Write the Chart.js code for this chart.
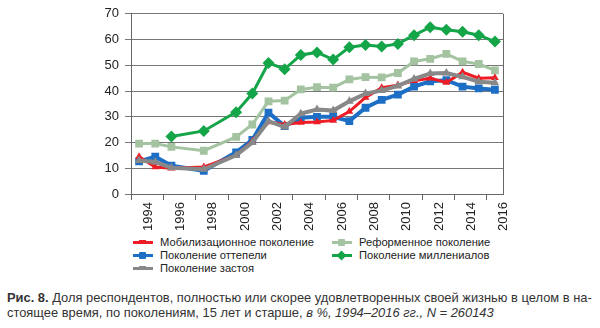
<!DOCTYPE html>
<html>
<head>
<meta charset="utf-8">
<script src="https://cdn.jsdelivr.net/npm/chart.js@4"></script>
<style>
  body { margin: 0; background: #fff; font-family: "Liberation Sans", Arial, sans-serif; }
  #wrap { position: relative; width: 600px; height: 328px; overflow: hidden; }
  #chartBox { position: absolute; left: 0; top: 0; width: 600px; height: 234px; }
  #legend { position: absolute; left: 0; top: 235px; width: 600px; height: 42px; font-size: 11.2px; color: #222; }
  .item { position: absolute; height: 13px; line-height: 13px; white-space: nowrap; }
  .item .ln { position: absolute; left: 0; top: 5px; width: 20px; height: 3px; }
  .item .mk { position: absolute; left: 6px; top: 3px; width: 7px; height: 7px; }
  .item span.tx { position: absolute; left: 27px; top: 0; }
  #caption { position: absolute; left: 7px; top: 290px; width: 592px; font-size: 12.9px; line-height: 15px; color: #333; white-space: nowrap; }
</style>
</head>
<body>
<div id="wrap">
  <div id="chartBox"><canvas id="lifeChart"></canvas></div>
  <div id="legend"></div>
  <div id="caption"><b>Рис. 8.</b> Доля респондентов, полностью или скорее удовлетворенных своей жизнью в целом в на-<br>стоящее время, по поколениям, 15 лет и старше, <i>в %, 1994–2016 гг., N = 260143</i></div>
</div>
<script>
// Chart data
const years = ['1994','1995','1996','1997','1998','1999','2000','2001','2002','2003','2004','2005',
               '2006','2007','2008','2009','2010','2011','2012','2013','2014','2015','2016'];
const yTicks = [0, 10, 20, 30, 40, 50, 60, 70];

const mobilization = [14.5, 10.5, 10, null, 10.5, null, 15, 20.5, 28, 27, 27.8, 28, 28.6, 32, 37.5, 41.3, 42.3, 44, 45, 43.3, 47.3, 45, 45.2];
const reform       = [19.6, 19.6, 18.3, null, 16.8, null, 22.2, 27, 36, 36.3, 40.6, 41.5, 41.3, 44.5, 45.4, 45.3, 47, 51.5, 52.5, 54.4, 51.5, 50.5, 48];
const thaw         = [12.7, 14.5, 11, null, 9, null, 16.2, 21, 31.6, 26.4, 29.6, 30, 30, 28.3, 33.5, 36.6, 38.6, 41.7, 43.8, 44.2, 41.7, 41, 40.5];
const millennials  = [null, null, 22.3, null, 24.5, null, 31.8, 39, 50.9, 48.5, 54, 55, 52.2, 57, 57.9, 57.3, 58.3, 61.7, 64.8, 63.8, 63, 61.7, 59.2];
const stagnation   = [13, 12.4, 10.2, null, 9.6, null, 15, 20, 28.3, 26, 31.2, 32.8, 32.4, 36, 39, 40.2, 42, 44.7, 46.8, 47, 45.5, 43.6, 43.2];

const seriesNames = ['Мобилизационное поколение', 'Реформенное поколение', 'Поколение оттепели',
                     'Поколение миллениалов', 'Поколение застоя'];
const seriesColors = ['#ee1c25', '#a4c3a1', '#1d6fc6', '#15a549', '#888888'];

const seriesStyle = [
    { data: mobilization, pointStyle: 'triangle', radius: 4.5, width: 3, order: 2 },
    { data: reform, pointStyle: 'rect', radius: 5.5, width: 3, order: 5 },
    { data: thaw, pointStyle: 'rect', radius: 5.5, width: 4, order: 3 },
    { data: millennials, pointStyle: 'rectRot', radius: 6, width: 3, order: 4 },
    { data: stagnation, pointStyle: 'triangle', radius: 5, width: 4, order: 1 }
];

// Frame round the plot area
const frame = {
    id: 'frame',
    beforeDatasetsDraw(chart) {
        const a = chart.chartArea;
        const ctx = chart.ctx;
        ctx.save();
        ctx.strokeStyle = '#666';
        ctx.lineWidth = 1;
        ctx.beginPath();
        ctx.moveTo(a.right + 0.5, a.top);
        ctx.lineTo(a.right + 0.5, a.bottom);
        ctx.stroke();
        ctx.restore();
    }
};

const ctx = document.getElementById('lifeChart').getContext('2d');
const lifeChart = new Chart(ctx, {
    type: 'line',
    data: {
        labels: years,
        datasets: seriesStyle.map((s, i) => ({
            label: seriesNames[i],
            data: s.data,
            borderColor: seriesColors[i],
            backgroundColor: seriesColors[i],
            borderWidth: s.width,
            pointStyle: s.pointStyle,
            pointRadius: s.radius,
            pointBorderWidth: 0,
            pointHoverRadius: s.radius,
            tension: 0,
            spanGaps: true,
            order: s.order
        }))
    },
    options: {
        responsive: true,
        maintainAspectRatio: false,
        animation: false,
        layout: { padding: { left: 0, right: 97, top: 11, bottom: 0 } },
        plugins: {
            legend: { display: false },
            tooltip: { enabled: false }
        },
        scales: {
            x: {
                offset: true,
                grid: {
                    offset: true,
                    drawOnChartArea: false,
                    tickLength: 6,
                    color: c => (c.index % 2 === 0 ? '#666' : 'rgba(0,0,0,0)')
                },
                border: { color: '#666' },
                ticks: {
                    autoSkip: false,
                    minRotation: 90,
                    maxRotation: 90,
                    labelOffset: 9,
                    padding: 2,
                    color: '#222',
                    font: { family: '"Liberation Sans", Arial', size: 13 },
                    callback: function (v, i) { return i % 2 === 0 ? years[i] : ''; }
                },
                afterFit: s => { s.height = 234 - 194; }
            },
            y: {
                min: 0,
                max: 70,
                afterBuildTicks: s => { s.ticks = yTicks.map(v => ({ value: v })); },
                grid: { color: '#777', tickLength: 6 },
                border: { color: '#666' },
                ticks: {
                    padding: 6,
                    color: '#222',
                    font: { family: '"Liberation Sans", Arial', size: 13 }
                },
                afterFit: s => { s.width = 131; }
            }
        }
    },
    plugins: [frame]
});

// HTML legend, two columns like the source
const legendPos = [
    { left: 133, top: 1 }, { left: 332, top: 1 },
    { left: 133, top: 14 }, { left: 332, top: 14 },
    { left: 133, top: 27 }
];
const legend = document.getElementById('legend');
seriesStyle.forEach((s, i) => {
    const el = document.createElement('div');
    el.className = 'item';
    el.style.left = legendPos[i].left + 'px';
    el.style.top = legendPos[i].top + 'px';
    let mk = '';
    if (s.pointStyle === 'rect') mk = 'border-radius:1px;';
    if (s.pointStyle === 'rectRot') mk = 'transform:rotate(45deg);';
    if (s.pointStyle === 'triangle') mk = 'height:4px;top:4px;';
    el.innerHTML = `<div class="ln" style="background:${seriesColors[i]}"></div>` +
        `<div class="mk" style="background:${seriesColors[i]};${mk}"></div>` +
        `<span class="tx">${seriesNames[i]}</span>`;
    legend.appendChild(el);
});
</script>
</body>
</html>
